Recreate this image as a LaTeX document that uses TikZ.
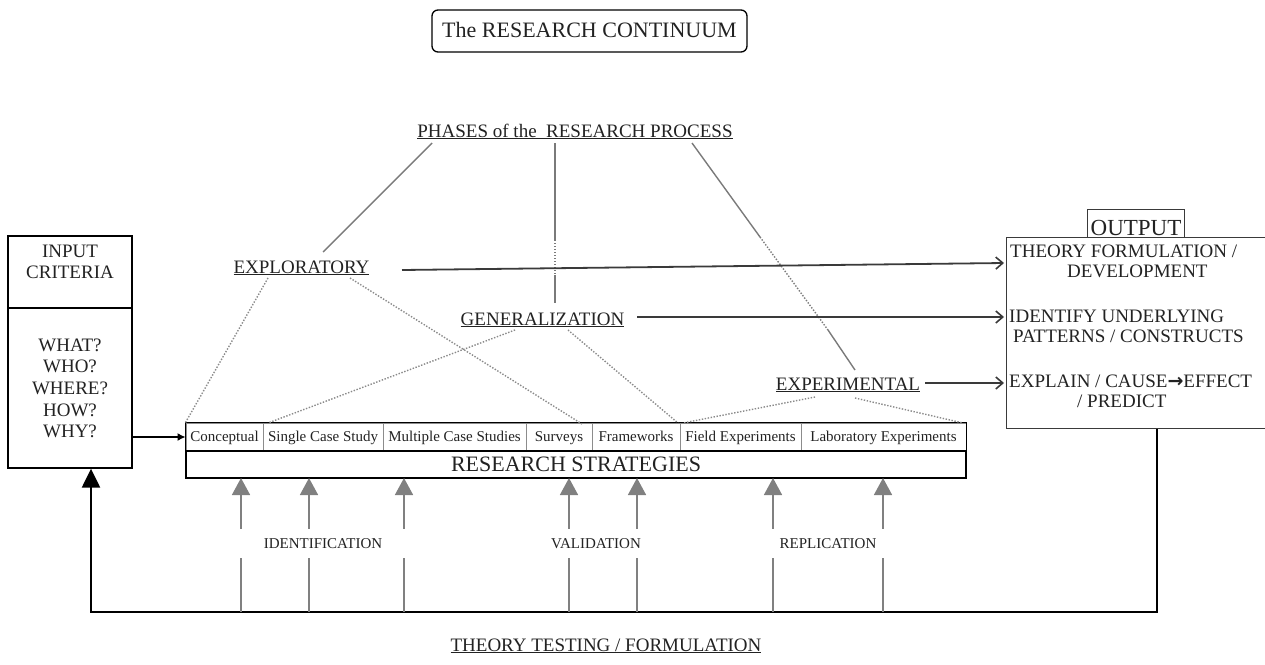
\documentclass[tikz,border=0pt]{standalone}
\usepackage{fontspec}
\setmainfont{Liberation Serif}
\newfontfamily\symfont{DejaVu Sans}
\usetikzlibrary{arrows.meta}

\definecolor{ink}{HTML}{222222}
\definecolor{phasegray}{HTML}{7A7A7A}
\definecolor{dotgray}{HTML}{8A8A8A}
\definecolor{upgray}{HTML}{808080}
\definecolor{cellgray}{HTML}{8C8C8C}
\definecolor{darkline}{HTML}{3A3A3A}

\newcommand\fsBig{\fontsize{22pt}{26pt}\selectfont}
\newcommand\fsMid{\fontsize{19pt}{21.5pt}\selectfont}
\newcommand\fsSmall{\fontsize{15pt}{17pt}\selectfont}

\begin{document}
\begin{tikzpicture}[x=1pt,y=-1pt,
  txt/.style={text=ink, inner sep=0pt, font=\fsMid},
  smalltxt/.style={text=ink, inner sep=0pt, font=\fsSmall},
  cell/.style={draw=cellgray, line width=1pt, font=\fsSmall, text=ink,
    minimum height=28pt, inner sep=0pt, text height=11pt, text depth=3pt},
  phaseline/.style={draw=phasegray, line width=1.4pt},
  phasedots/.style={draw=phasegray, line width=1.4pt, dash pattern=on 1.4pt off 1.6pt},
  linkdots/.style={draw=dotgray, line width=1.4pt, dash pattern=on 1.4pt off 1.6pt},
  outarrow/.style={draw=darkline, line width=1.8pt, -{Straight Barb[length=7pt,width=12pt,line width=1.6pt]}},
  uparrow/.style={draw=upgray, line width=1.6pt, -{Triangle[length=17pt,width=18pt]}},
  gaplabel/.style={fill=white, text=ink, font=\fsSmall, inner sep=0pt, minimum height=29pt}
]
\useasboundingbox (0,0) rectangle (1265,664);

% title
\node[draw=black, line width=1.3pt, rounded corners=6pt, minimum width=315pt,
      minimum height=42pt, inner sep=0pt, text=ink, font=\fsBig,
      text height=15pt, text depth=2pt] (title) at (589.5,31) {The RESEARCH CONTINUUM};

% phases of the research process
\node[txt, anchor=base] (phases) at (575,137) {\underline{PHASES of the\ \ RESEARCH PROCESS}};
\node[txt, anchor=base] (expl) at (301.5,273) {\underline{EXPLORATORY}};
\node[txt, anchor=base] (gen) at (542.5,325) {\underline{GENERALIZATION}};
\node[txt, anchor=base] (exper) at (848,390) {\underline{EXPERIMENTAL}};

% input criteria box
\node[draw=black, line width=1.3pt, minimum width=124pt, minimum height=232pt,
      inner sep=0pt] (inbox) at (70,352) {};
\draw[line width=1.3pt] (8,308) -- (132,308);
\node[txt, anchor=base] (in1) at (70,257) {INPUT};
\node[txt, anchor=base] (in2) at (70,278) {CRITERIA};
\node[txt, anchor=base] (q1) at (70,351) {WHAT?};
\node[txt, anchor=base] (q2) at (70,372) {WHO?};
\node[txt, anchor=base] (q3) at (70,394) {WHERE?};
\node[txt, anchor=base] (q4) at (70,416) {HOW?};
\node[txt, anchor=base] (q5) at (70,437) {WHY?};

% output box
\node[draw=darkline, line width=1.2pt, minimum width=262pt, minimum height=191pt,
      inner sep=0pt, anchor=north west] (outbox) at (1006,237) {};
\node[draw=darkline, line width=1pt, inner xsep=3pt, inner ysep=0.5pt,
      text height=25.5pt, text depth=1pt, font=\fontsize{23pt}{26pt}\selectfont,
      text=ink, anchor=base] (outlabel) at (1136,235.5) {OUTPUT};
\node[txt, anchor=base west] (o1) at (1010,257) {THEORY FORMULATION /};
\node[txt, anchor=base west] (o2) at (1067,277) {DEVELOPMENT};
\node[txt, anchor=base west] (o3) at (1009,322) {IDENTIFY UNDERLYING};
\node[txt, anchor=base west] (o4) at (1013,342) {PATTERNS / CONSTRUCTS};
\node[txt, anchor=base west] (o5) at (1009,387) {EXPLAIN / CAUSE{\symfont\bfseries →}EFFECT};
\node[txt, anchor=base west] (o6) at (1077,407) {/ PREDICT};

% research strategies
\node[cell, minimum width=77pt]  (c1) at (224.5,437) {Conceptual};
\node[cell, minimum width=120pt] (c2) at (323,437)   {Single Case Study};
\node[cell, minimum width=143pt] (c3) at (454.5,437) {Multiple Case Studies};
\node[cell, minimum width=66pt]  (c4) at (559,437)   {Surveys};
\node[cell, minimum width=88pt]  (c5) at (636,437)   {Frameworks};
\node[cell, minimum width=121pt] (c6) at (740.5,437) {Field Experiments};
\node[cell, minimum width=165pt] (c7) at (883.5,437) {Laboratory Experiments};
\draw[line width=1.4pt] (c1.north west) rectangle (c7.south east);
\node[draw=black, line width=1.6pt, minimum width=780pt, minimum height=27pt,
      inner sep=0pt, font=\fsBig, text=ink] (strat) at (576,464.5) {RESEARCH STRATEGIES};

% phase lines from the heading
\draw[phaseline] (432,143) -- (323,252);
\draw[phaseline] (555,143) -- (555,240);
\draw[phasedots] (555,240) -- (555,275);
\draw[phaseline] (555,275) -- (555,303);
\draw[phaseline] (692,143) -- (760,237);
\draw[phasedots] (760,237) -- (828,330);
\draw[phaseline] (828,330) -- (855,370);

% links from phases to strategies
\draw[linkdots] (268,278) -- (c1.north west);
\draw[linkdots] (350,278) -- (582,424);
\draw[linkdots] (515,330) -- (268,423);
\draw[linkdots] (568,330) -- (678,423);
\draw[linkdots] (815,397) -- (683,423);
\draw[linkdots] (855,398) -- (963,423);

% phase outputs
\draw[outarrow] (402,270) -- (1004,263);
\draw[outarrow] (637,317) -- (1004,317);
\draw[outarrow] (925,383) -- (1004,383);

% input to strategies
\draw[line width=1.3pt, -{Latex[length=8pt,width=8pt]}] (inbox.east |- c1) -- (c1.west);

% feedback loop
\coordinate (fbR) at (1157,612);
\coordinate (fbL) at (91,612);
\draw[line width=2.3pt, line join=miter, -{Triangle[length=19pt,width=18pt]}]
  (outbox.south -| fbR) -- (fbR) -- (fbL) -- (inbox.south -| fbL);

% upward arrows into the strategies
\foreach \x in {241,309,404,569,637,773,883}
  \draw[uparrow] (\x,612) -- (\x,478);

\node[gaplabel, minimum width=186pt] (ident) at (323,543.5) {IDENTIFICATION};
\node[gaplabel, minimum width=104pt] (valid) at (596,543.5) {VALIDATION};
\node[gaplabel, minimum width=128pt] (repl) at (828,543.5) {REPLICATION};

% bottom caption
\node[txt, anchor=base] (testing) at (606,651) {\underline{THEORY TESTING / FORMULATION}};
\end{tikzpicture}
\end{document}
